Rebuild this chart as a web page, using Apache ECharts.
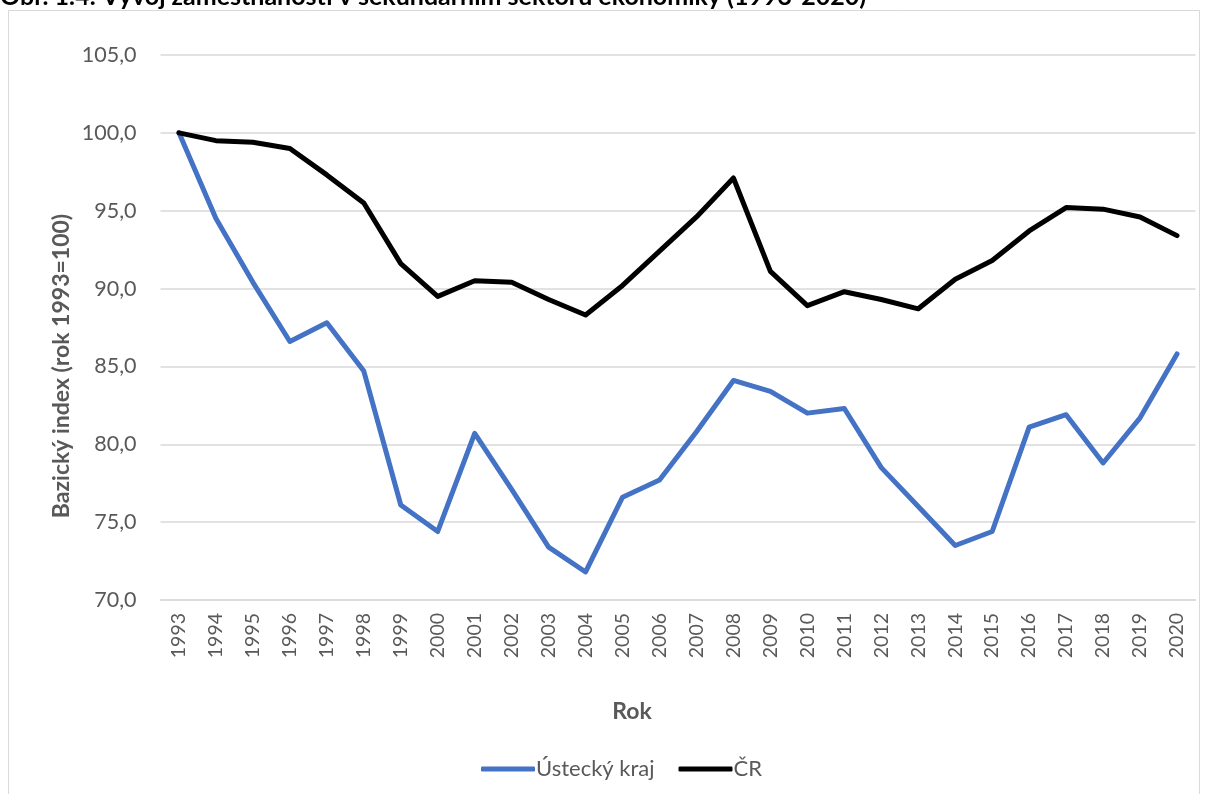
<!DOCTYPE html>
<html>
<head>
<meta charset="utf-8">
<script src="https://cdn.jsdelivr.net/npm/echarts@6/dist/echarts.min.js"></script>
<style>html,body{margin:0;padding:0;background:#fff}#c{width:1209px;height:794px}</style>
</head>
<body>
<div id="c"></div>
<script>
const years = ['1993','1994','1995','1996','1997','1998','1999','2000','2001','2002','2003','2004','2005','2006','2007','2008','2009','2010','2011','2012','2013','2014','2015','2016','2017','2018','2019','2020'];
const ustecky = [100.0,94.5,90.4,86.6,87.8,84.7,76.1,74.4,80.7,77.1,73.4,71.8,76.6,77.7,80.8,84.1,83.4,82.0,82.3,78.5,76.0,73.5,74.4,81.1,81.9,78.8,81.7,85.8];
const cr = [100.0,99.5,99.4,99.0,97.3,95.5,91.6,89.5,90.5,90.4,89.3,88.3,90.2,92.4,94.6,97.1,91.1,88.9,89.8,89.3,88.7,90.6,91.8,93.7,95.2,95.1,94.6,93.4];
const yTicks = {min: 70, max: 105, interval: 5};
const titleText = 'Obr. 1.4: Vývoj zaměstnanosti v sekundárním sektoru ekonomiky (1993-2020)';
const yName = 'Bazický index (rok 1993=100)';
const xName = 'Rok';

const FONT = 'Lato, "Open Sans", sans-serif';
const GREY = '#595959';
const chart = echarts.init(document.getElementById('c'));
chart.setOption({
  animation: false,
  backgroundColor: '#fff',
  textStyle: {fontFamily: FONT},
  graphic: [
    {type: 'rect', shape: {x: 8.5, y: 10.5, width: 1191, height: 800}, style: {fill: 'none', stroke: '#d9d9d9', lineWidth: 1}, silent: true, z: -1},
    {type: 'text', x: 0, y: 9, style: {text: titleText, font: 'bold 25px ' + FONT, fill: '#000', verticalAlign: 'bottom', align: 'left'}},
    {type: 'text', x: 62, y: 366, rotation: Math.PI / 2, style: {text: yName, font: 'bold 23px ' + FONT, fill: GREY, align: 'center', verticalAlign: 'middle'}},
    {type: 'text', x: 632, y: 712, style: {text: xName, font: 'bold 23px ' + FONT, fill: GREY, align: 'center', verticalAlign: 'middle'}}
  ],
  grid: {left: 160.5, right: 13.5, top: 55, bottom: 194, containLabel: false},
  legend: {
    left: 476, top: 753,
    itemWidth: 54, itemHeight: 5, itemGap: 24,
    icon: 'roundRect',
    textStyle: {fontSize: 22, color: GREY, fontFamily: FONT, padding: [0, 0, 0, -4]},
    data: ['Ústecký kraj', 'ČR']
  },
  xAxis: {
    type: 'category',
    data: years,
    boundaryGap: true,
    axisLine: {show: true, lineStyle: {color: '#d9d9d9', width: 1.5}},
    axisTick: {show: false},
    axisLabel: {rotate: 90, fontSize: 19.5, color: GREY, margin: 13, interval: 0}
  },
  yAxis: {
    type: 'value',
    min: yTicks.min, max: yTicks.max, interval: yTicks.interval,
    axisLine: {show: false},
    axisTick: {show: false},
    axisLabel: {fontSize: 21.5, color: GREY, margin: 24, formatter: v => v.toFixed(1).replace('.', ',')},
    splitLine: {lineStyle: {color: '#d9d9d9', width: 1.5}}
  },
  series: [
    {name: 'Ústecký kraj', type: 'line', data: ustecky, symbol: 'none', lineStyle: {color: '#4472C4', width: 5, cap: 'round', join: 'round'}, itemStyle: {color: '#4472C4'}, z: 2},
    {name: 'ČR', type: 'line', data: cr, symbol: 'none', lineStyle: {color: '#000000', width: 5, cap: 'round', join: 'round'}, itemStyle: {color: '#000000'}, z: 3}
  ]
});
</script>
</body>
</html>
